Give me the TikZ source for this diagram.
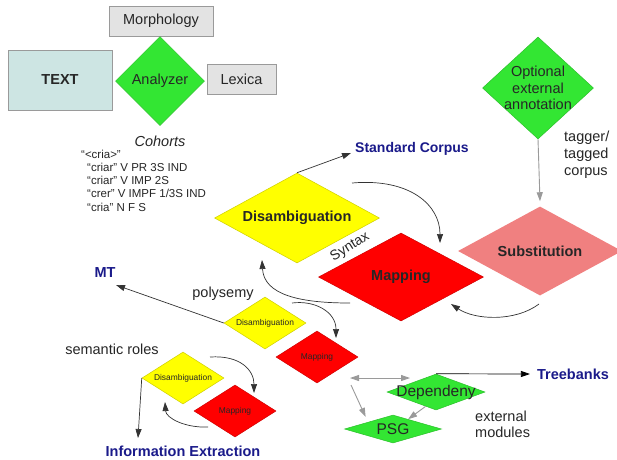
\documentclass[tikz,border=0pt]{standalone}
\usepackage{fontspec}
\setmainfont{Liberation Sans}
\usetikzlibrary{shapes.geometric,arrows.meta}
\definecolor{txt}{HTML}{262626}
\definecolor{navy}{HTML}{1A1A8A}
\definecolor{grn}{HTML}{33E633}
\definecolor{grnb}{HTML}{2BC02B}
\definecolor{yel}{HTML}{FFFF00}
\definecolor{yelb}{HTML}{CFCF00}
\definecolor{rd}{HTML}{FF0000}
\definecolor{rdb}{HTML}{D00000}
\definecolor{pnk}{HTML}{F08080}
\definecolor{boxg}{HTML}{E3E3E3}
\definecolor{tealb}{HTML}{CDE5E3}
\definecolor{gline}{HTML}{9A9A9A}
\definecolor{cline}{HTML}{333333}
\begin{document}
\begin{tikzpicture}[x=1pt,y=-1pt,
  every node/.style={font=\fontsize{14.5}{17}\selectfont, text=txt},
  dia/.style={diamond, inner sep=0pt, line width=0.5pt},
  gdia/.style={dia, fill=grn, draw=grnb},
  ydia/.style={dia, fill=yel, draw=yelb},
  rdia/.style={dia, fill=rd, draw=rdb},
  box/.style={rectangle, draw=gline, line width=0.8pt, fill=boxg, inner sep=0pt},
  lbl/.style={inner sep=1pt},
  outlbl/.style={inner sep=1pt, text=navy, font=\fontsize{14.5}{17}\selectfont\bfseries},
  arr/.style={-{Triangle[length=9pt,width=6pt]}, line width=0.7pt, draw=cline},
  garr/.style={-{Triangle[length=9pt,width=6pt]}, line width=0.9pt, draw=gline},
  gdarr/.style={{Triangle[length=9pt,width=6pt]}-{Triangle[length=9pt,width=6pt]}, line width=0.9pt, draw=gline},
  smallt/.style={font=\fontsize{8.4}{10}\selectfont},
  boldt/.style={font=\fontsize{14.5}{17}\selectfont\bfseries},
]
\fill[white] (0,0) rectangle (617,459);
\useasboundingbox (0,0) rectangle (617,459);

% top-left analyser block
\node[box, minimum width=104pt, minimum height=30pt] (morph) at (161,21) {Morphology};
\node[box, fill=tealb, minimum width=104pt, minimum height=60pt, boldt] (text) at (60,80) {TEXT};
\node[gdia, aspect=1, minimum width=89pt, minimum height=89pt] (an) at (160,81) {Analyzer};
\node[box, minimum width=69pt, minimum height=30pt] (lex) at (241.5,79) {Lexica};
\node[lbl, font=\fontsize{14.5}{17}\selectfont\itshape] (coh) at (160,141) {Cohorts};
\node[lbl, anchor=north west, align=left, font=\fontsize{11.5}{13.3}\selectfont] (cohl) at (80,148.5)
  {“<cria>”\\
   \hspace*{6pt}“criar” V PR 3S IND\\
   \hspace*{6pt}“criar” V IMP 2S\\
   \hspace*{6pt}“crer” V IMPF 1/3S IND\\
   \hspace*{6pt}“cria” N F S};

% optional external annotation and substitution
\node[gdia, minimum width=111pt, minimum height=102pt] (opt) at (538,88) {};
\node[lbl, align=center, font=\fontsize{14.5}{16.5}\selectfont] (optt) at (opt.center) {Optional\\external\\annotation};
\node[lbl, anchor=north west, align=left, font=\fontsize{14.5}{16.8}\selectfont] (tag) at (563,130) {tagger/\\tagged\\corpus};
\node[dia, fill=pnk, aspect=1.84, minimum width=164pt, minimum height=89pt, boldt] (sub) at (540,251) {Substitution};

% main disambiguation / mapping
\node[ydia, aspect=1.83, minimum width=165pt, minimum height=90pt, boldt] (dis) at (297,218) {Disambiguation};
\node[rdia, aspect=1.87, minimum width=165pt, minimum height=88pt, boldt] (map) at (401,277) {Mapping};
\node[lbl, rotate=32, font=\fontsize{14}{17}\selectfont] (syn) at (350,247) {Syntax};
\node[outlbl, anchor=west, font=\fontsize{14}{17}\selectfont\bfseries] (sc) at (354,149) {Standard Corpus};

% polysemy pair
\node[outlbl] (mt) at (105,273) {MT};
\node[lbl] (poly) at (223,294) {polysemy};
\node[ydia, aspect=1.58, minimum width=82pt, minimum height=52pt, smallt] (d1) at (265,323) {Disambiguation};
\node[rdia, aspect=1.58, minimum width=82pt, minimum height=52pt, smallt] (m1) at (317,357) {Mapping};

% semantic roles pair
\node[lbl] (sem) at (112,349) {semantic roles};
\node[ydia, aspect=1.58, minimum width=82pt, minimum height=52pt, smallt] (d2) at (183,378) {Disambiguation};
\node[rdia, aspect=1.58, minimum width=82pt, minimum height=52pt, smallt] (m2) at (235,411) {Mapping};
\node[outlbl] (ie) at (183,451) {Information Extraction};

% external modules
\node[gdia, minimum width=98pt, minimum height=36pt] (dep) at (436,392) {};
\node[lbl, font=\fontsize{15.5}{17}\selectfont] (dept) at (dep.center) {Dependeny};
\node[gdia, minimum width=97pt, minimum height=28pt] (psg) at (393,429) {};
\node[lbl, font=\fontsize{15.5}{17}\selectfont] (psgt) at (psg.center) {PSG};
\node[outlbl] (tb) at (573,374) {Treebanks};
\node[lbl, anchor=north west, align=left, font=\fontsize{14.5}{16}\selectfont] (ext) at (474,410) {external\\modules};

% free connector ends
\coordinate (c1s) at (352,183);
\coordinate (c1e) at (440,243);
\coordinate (c2s) at (539,304);
\coordinate (c2e) at (451,304);
\coordinate (c3s) at (350,303);
\coordinate (c3e) at (262,260);
\coordinate (c4s) at (292,303);
\coordinate (c4e) at (336,338);
\coordinate (c5s) at (210,357);
\coordinate (c5e) at (254,393);
\coordinate (c6s) at (208,427);
\coordinate (c6e) at (165,402);
\coordinate (mtend) at (116,285);
\coordinate (ieend) at (138,438);
\coordinate (g1s) at (350,378);
\coordinate (g1e) at (410,378);
\coordinate (g2s) at (351,385);

% connectors
\draw[arr] (dis.north) -- ([shift={(-3,4)}]sc.west);
\draw[arr] (c1s) .. controls (410,178) and (440,205) .. (c1e);
\draw[arr] (c2s) .. controls (515,322) and (475,320) .. (c2e);
\draw[garr] (opt.south) -- ([yshift=5pt]sub.north);
\draw[arr] (c3s) .. controls (300,303) and (264,295) .. (c3e);
\draw[arr] (c4s) .. controls (315,300) and (336,312) .. (c4e);
\draw[arr] (c5s) .. controls (240,355) and (254,370) .. (c5e);
\draw[arr] (c6s) .. controls (185,428) and (166,418) .. (c6e);
\draw[arr] (d1.west) -- (mtend);
\draw[arr] (d2.west) -- (ieend);
\draw[arr, draw=black] (dep.north) -- ([xshift=-6pt]tb.west);
\draw[gdarr] (g1s) -- (g1e);
\draw[garr] (g2s) -- ([shift={(-3,-5)}]psg.north west);
\draw[garr] (dep.234) -- (psg.33);
\end{tikzpicture}
\end{document}
